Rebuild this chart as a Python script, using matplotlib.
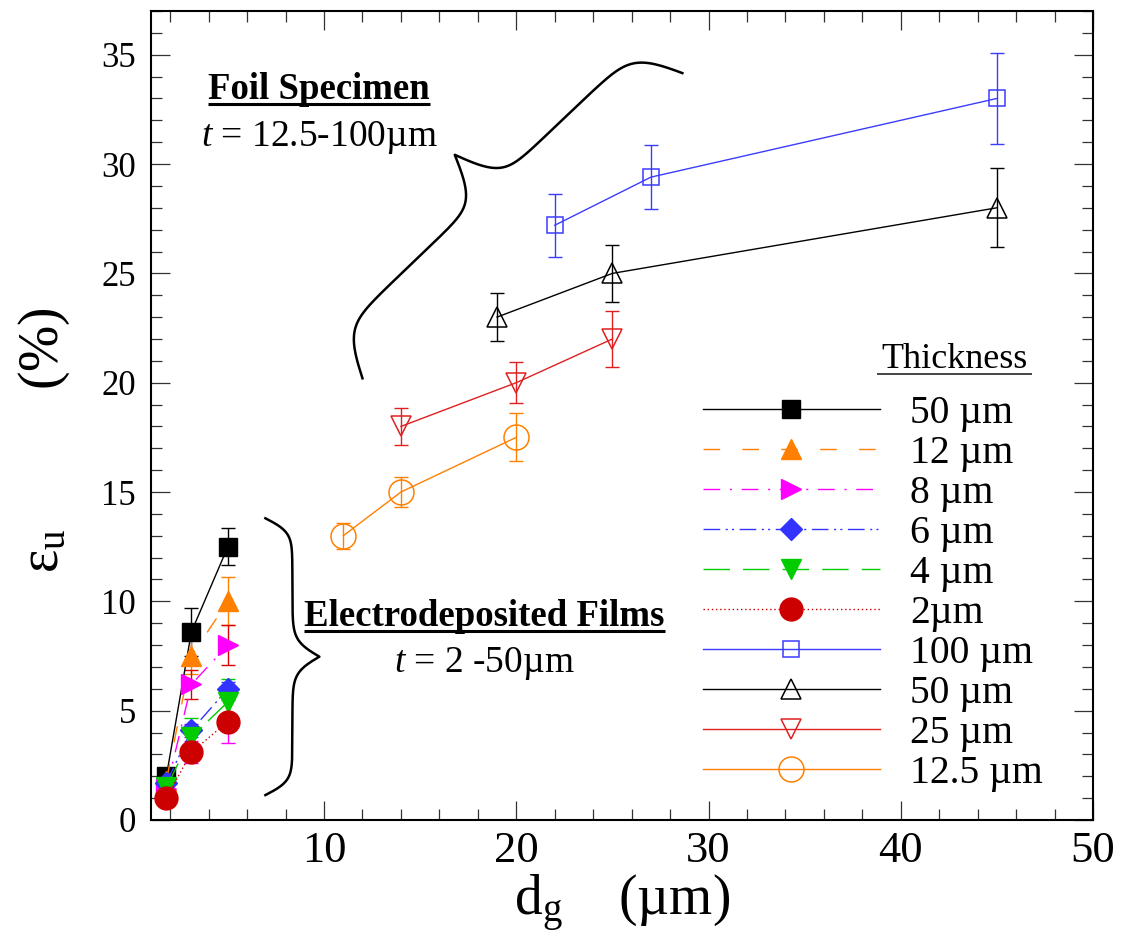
import numpy as np
import matplotlib.pyplot as plt
from matplotlib.ticker import MultipleLocator

plt.rcParams['font.family'] = 'Liberation Serif'
plt.rcParams['mathtext.fontset'] = 'custom'
plt.rcParams['mathtext.rm'] = 'Liberation Serif'
plt.rcParams['mathtext.it'] = 'Liberation Serif:italic'
plt.rcParams['mathtext.bf'] = 'Liberation Serif:bold'

# electrodeposited films (grain size in um, uniform elongation in %)
film_dg = [1.8, 3.1, 5.0]
eu_f50 = [2.0, 8.6, 12.5]
err_f50 = [0.2, 1.1, 0.85]
eu_f12 = [1.8, 7.5, 10.0]
err_f12 = [0.2, 0.8, 1.1]
eu_f8 = [1.4, 6.2, 8.0]
err_f8 = [0.2, 0.65, 0.9]
eu_f6 = [1.7, 4.1, 6.0]
err_f6 = [0.2, 0.3, 0.3]
eu_f4 = [1.5, 3.8, 5.4]
err_f4 = [0.2, 0.85, 1.05]
eu_f2 = [1.0, 3.1, 4.5]
err_f2 = [0.2, 0.5, 1.0]

# foil specimens
dg_100 = [22, 27, 45]
eu_100 = [27.2, 29.4, 33.0]
err_100 = [1.45, 1.45, 2.1]
dg_50 = [19, 25, 45]
eu_50 = [23.0, 25.0, 28.0]
err_50 = [1.1, 1.3, 1.8]
dg_25 = [14, 20, 25]
eu_25 = [18.0, 20.0, 22.0]
err_25 = [0.85, 0.95, 1.3]
dg_125 = [11, 14, 20]
eu_125 = [13.0, 15.0, 17.5]
err_125 = [0.6, 0.7, 1.1]

fig = plt.figure(figsize=(11.22, 9.40), dpi=100)
ax = fig.add_axes([151/1122, 1-820/940, (1093-151)/1122, (820-11)/940])
ax.set_xlim(1, 50)
ax.set_ylim(0, 37)

films = [
    (eu_f50, err_f50, '50 µm', 'k', 'k', '-', 's', 13.5),
    (eu_f12, err_f12, '12 µm', '#FF7F00', '#FF7F00', (0, (12, 16)), '^', 14.5),
    (eu_f8, err_f8, '8 µm', '#FF00FF', '#DD0000', (0, (12, 7, 1.5, 7)), '>', 14.5),
    (eu_f6, err_f6, '6 µm', '#3333FF', '#3333FF', (0, (12, 4, 1.5, 3, 1.5, 4)), 'D', 11),
    (eu_f4, err_f4, '4 µm', '#00CC00', '#00CC00', (0, (19, 9.5)), 'v', 14.5),
    (eu_f2, err_f2, '2µm', '#CC0000', '#FF00FF', (0, (1, 2)), 'o', 16.5),
]
for eu, err, lab, c, ec, ls, mk, ms in films:
    ax.errorbar(film_dg, eu, yerr=err, fmt='none', ecolor=ec, elinewidth=1,
                capsize=5, capthick=1, zorder=2)
    ax.plot(film_dg, eu, ls=ls, color=c, lw=1, marker=mk, ms=ms, mfc=c, mec=c,
            label=lab, zorder=3)

foils = [
    (dg_100, eu_100, err_100, '100 µm', '#3C3CFF', 's', 12),
    (dg_50, eu_50, err_50, '50 µm', 'k', '^', 15),
    (dg_25, eu_25, err_25, '25 µm', '#E02020', 'v', 14.5),
    (dg_125, eu_125, err_125, '12.5 µm', '#FF8000', 'o', 18),
]
for dg, eu, err, lab, c, mk, ms in foils:
    ax.errorbar(dg, eu, yerr=err, fmt='none', ecolor=c, elinewidth=1,
                capsize=5, capthick=1, zorder=2)
    ax.plot(dg, eu, ls='-', color=c, lw=1, marker=mk, ms=ms, mfc='none', mec=c,
            mew=1.1, label=lab, zorder=3)

ax.xaxis.set_major_locator(MultipleLocator(10))
ax.xaxis.set_minor_locator(MultipleLocator(2))
ax.yaxis.set_major_locator(MultipleLocator(5))
ax.yaxis.set_minor_locator(MultipleLocator(1))
ax.tick_params(which='both', direction='in', top=True, right=True, width=0.9, color='#333333')
ax.tick_params(which='major', length=14)
ax.tick_params(which='minor', length=8)
ax.tick_params(axis='x', labelsize=32, pad=8)
ax.tick_params(axis='y', labelsize=25, pad=11)
for sp in ax.spines.values():
    sp.set_linewidth(1.5)

ax.set_xlabel(r'd$_\mathrm{g}$    (µm)', fontsize=40)
ax.set_ylabel(r'ε$_\mathrm{u}$' + ' ' * 10 + '(%)', fontsize=40)
ax.xaxis.set_label_coords(0.5, -0.065)
ax.yaxis.set_label_coords(-0.084, 0.47)

leg = ax.legend(loc='upper left', bbox_to_anchor=(703/1122, 1-395/940),
                bbox_transform=fig.transFigure, frameon=False, fontsize=28.5,
                handlelength=4.47, handletextpad=0.76, labelspacing=0.075,
                borderpad=0, borderaxespad=0, numpoints=1)

t_thk = ax.text(42.8, 20.68, 'Thickness', fontsize=26, ha='center', va='baseline')
t_foil = ax.text(9.75, 32.97, 'Foil Specimen', fontsize=26.5, fontweight='bold',
                 ha='center', va='baseline')
ax.text(9.75, 30.82, r'$t$ = 12.5-100µm', fontsize=27, ha='center', va='baseline')
t_film = ax.text(18.34, 8.86, 'Electrodeposited Films', fontsize=26.5, fontweight='bold',
                 ha='center', va='baseline')
ax.text(18.34, 6.76, r'$t$ = 2 -50µm', fontsize=27, ha='center', va='baseline')


def brace(p0, p1, width, k_end, k_mid, n=300):
    a = ax.transData.transform(p0)
    b = ax.transData.transform(p1)
    L = np.hypot(*(b - a))
    d = (b - a) / L
    nrm = np.array([-d[1], d[0]])
    s = np.linspace(0, L / 2, n)
    off = width * (1 / (1 + np.exp(-s / k_end)) - 0.5 + 1 / (1 + np.exp(-(s - L / 2) / k_mid)))
    s_all = np.concatenate([s, L - s[::-1]])
    off_all = np.concatenate([off, off[::-1]])
    pts = a + np.outer(s_all, d) + np.outer(off_all, nrm)
    pts = ax.transData.inverted().transform(pts)
    ax.plot(pts[:, 0], pts[:, 1], color='k', lw=1.8, clip_on=False, zorder=4)


brace((6.95, 13.8), (6.95, 1.14), 54, 7, 8)
brace((12.0, 20.2), (28.64, 34.16), 98, 12, 10)

fig.canvas.draw()
inv = ax.transData.inverted()


def underline(txt, gap, lw, color, ext=0):
    bb = txt.get_window_extent()
    yb = ax.transData.transform(txt.get_position())[1] - gap
    p = inv.transform([[bb.x0 - ext, yb], [bb.x1 + ext, yb]])
    ax.plot(p[:, 0], p[:, 1], color=color, lw=lw, clip_on=False, zorder=4,
            solid_capstyle='butt')


underline(t_foil, 5, 2.2, 'k')
underline(t_film, 5, 2.2, 'k')
underline(t_thk, 6, 1.4, '#444444', ext=4)

fig.savefig('out.png', dpi=100)
